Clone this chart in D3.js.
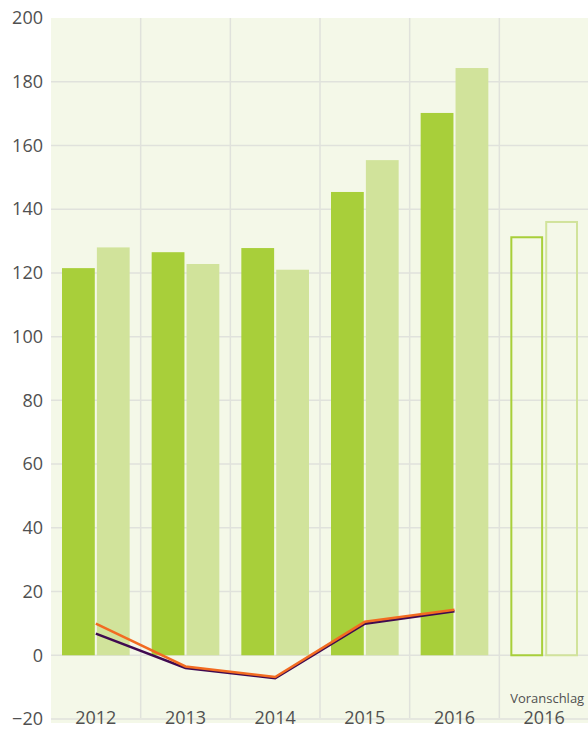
<!DOCTYPE html>
<html lang="de">
<head>
    <meta charset="utf-8">
    <title>Chart</title>
    <script src="https://d3js.org/d3.v7.min.js"></script>
    <style>
        body { margin: 0; background: #fff; }
        svg text { font-family: "Open Sans", "Noto Sans", sans-serif; fill: #505050; }
    </style>
</head>
<body>
    <svg id="chart"></svg>

    <script>
        var width = 588;
        var height = 729;

        // data
        var categories = ["2012", "2013", "2014", "2015", "2016", "V2016"];
        var categoryLabels = ["2012", "2013", "2014", "2015", "2016", "2016"];
        var darkValues = [121.5, 126.5, 127.8, 145.4, 170.2, 131.5];
        var lightValues = [128, 122.8, 121, 155.4, 184.3, 136.3];
        var orangeValues = [9.9, -3.5, -6.8, 10.5, 14.3];
        var purpleValues = [6.8, -4, -7.2, 9.9, 13.8];
        var yTicks = [-20, 0, 20, 40, 60, 80, 100, 120, 140, 160, 180, 200];

        var plot = { left: 51, right: 589, top: 18, bottom: 723 };

        var svg = d3.select("#chart")
            .attr("width", width)
            .attr("height", height);

        var xscale = d3.scaleBand()
            .domain(categories)
            .range([plot.left, plot.right])
            .padding(0);
        var yscale = d3.scaleLinear()
            .domain([-20, 200])
            .range([719, 18]);
        var inner = d3.scaleBand()
            .domain(["dark", "light"])
            .range([11, xscale.bandwidth() - 11])
            .paddingInner(0.06);

        // background
        svg.append("rect")
            .attr("x", plot.left)
            .attr("y", plot.top)
            .attr("width", plot.right - plot.left)
            .attr("height", plot.bottom - plot.top)
            .attr("fill", "#f4f8e8");

        // grid
        svg.append("g")
            .selectAll("line")
            .data(yTicks.slice(0, -1))
            .enter()
            .append("line")
            .attr("x1", plot.left)
            .attr("x2", plot.right)
            .attr("y1", function (d) { return yscale(d); })
            .attr("y2", function (d) { return yscale(d); })
            .attr("stroke", "#e0e2dc")
            .attr("stroke-width", 1.5);

        svg.append("g")
            .selectAll("line")
            .data(categories.slice(1))
            .enter()
            .append("line")
            .attr("x1", function (d) { return xscale(d); })
            .attr("x2", function (d) { return xscale(d); })
            .attr("y1", plot.top)
            .attr("y2", 718)
            .attr("stroke", "#e0e2dc")
            .attr("stroke-width", 1.5);

        // y axis labels
        var yaxis = d3.axisLeft(yscale)
            .tickValues(yTicks)
            .tickSize(0)
            .tickPadding(8);
        var gy = svg.append("g")
            .attr("transform", "translate(" + plot.left + ",0)")
            .call(yaxis);
        gy.select(".domain").remove();
        gy.selectAll("text")
            .attr("font-size", 18)
            .style("font-family", "'Open Sans', sans-serif")
            .attr("fill", "#505050");

        // bars
        var last = categories[categories.length - 1];
        svg.append("g")
            .selectAll("rect")
            .data(categories)
            .enter()
            .append("rect")
            .attr("x", function (d) { return xscale(d) + inner("dark") + (d === last ? 1 : 0); })
            .attr("y", function (d, i) { return yscale(darkValues[i]) + (d === last ? 1 : 0); })
            .attr("width", function (d) { return inner.bandwidth() - (d === last ? 2 : 0); })
            .attr("height", function (d, i) { return yscale(0) - yscale(darkValues[i]) - (d === last ? 1 : 0); })
            .attr("fill", function (d) { return d === last ? "none" : "#a8cf3a"; })
            .attr("stroke", function (d) { return d === last ? "#a8cf3a" : "none"; })
            .attr("stroke-width", 2);

        svg.append("g")
            .selectAll("rect")
            .data(categories)
            .enter()
            .append("rect")
            .attr("x", function (d) { return xscale(d) + inner("light") + (d === last ? 1 : 0); })
            .attr("y", function (d, i) { return yscale(lightValues[i]) + (d === last ? 1 : 0); })
            .attr("width", function (d) { return inner.bandwidth() - (d === last ? 2 : 0); })
            .attr("height", function (d, i) { return yscale(0) - yscale(lightValues[i]) - (d === last ? 1 : 0); })
            .attr("fill", function (d) { return d === last ? "none" : "#d1e39b"; })
            .attr("stroke", function (d) { return d === last ? "#d1e39b" : "none"; })
            .attr("stroke-width", 2);

        // lines
        var lineCats = categories.slice(0, 5);
        var line = d3.line()
            .x(function (d, i) { return xscale(lineCats[i]) + xscale.bandwidth() / 2; })
            .y(function (d) { return yscale(d); });

        svg.append("path")
            .datum(purpleValues)
            .attr("d", line)
            .attr("fill", "none")
            .attr("stroke", "#3f0a50")
            .attr("stroke-width", 2.5);
        svg.append("path")
            .datum(orangeValues)
            .attr("d", line)
            .attr("fill", "none")
            .attr("stroke", "#f26b21")
            .attr("stroke-width", 2.5);

        // x labels
        svg.append("g")
            .selectAll("text")
            .data(categories)
            .enter()
            .append("text")
            .attr("x", function (d) { return xscale(d) + xscale.bandwidth() / 2; })
            .attr("y", 724)
            .attr("text-anchor", "middle")
            .attr("font-size", 18)
            .text(function (d, i) { return categoryLabels[i]; });

        svg.append("text")
            .attr("x", xscale(last) + xscale.bandwidth() / 2 + 3)
            .attr("y", 703)
            .attr("text-anchor", "middle")
            .attr("font-size", 13)
            .text("Voranschlag");
    </script>
</body>
</html>
